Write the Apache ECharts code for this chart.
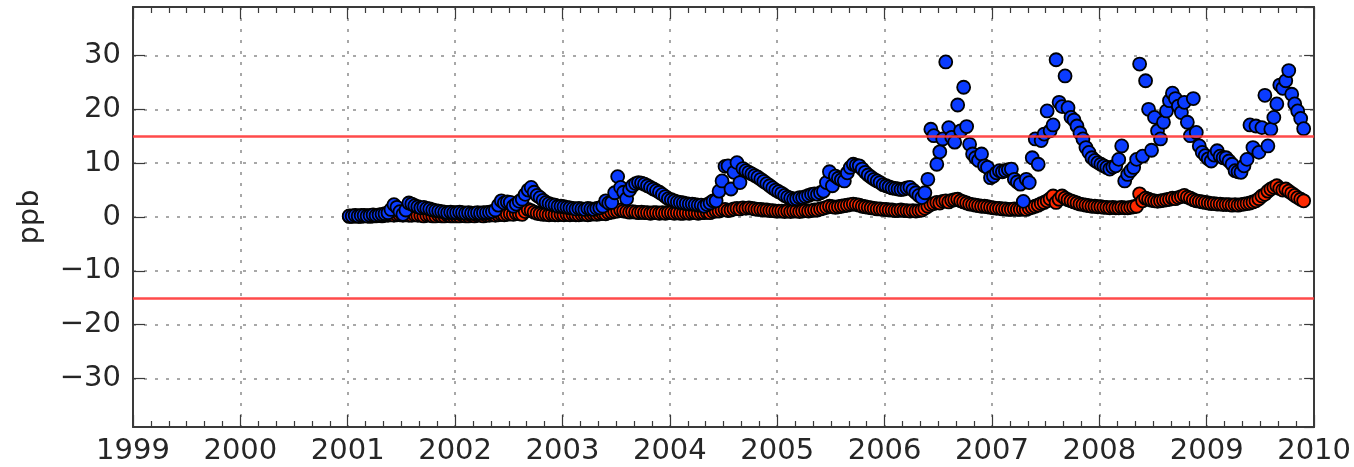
<!DOCTYPE html>
<html>
<head>
<meta charset="utf-8">
<script src="https://cdn.jsdelivr.net/npm/echarts@6/dist/echarts.min.js"></script>
<style>
  html, body { margin: 0; padding: 0; background: #ffffff; }
  #chart { width: 1354px; height: 467px; }
</style>
</head>
<body>
<div id="chart"></div>
<script>
// Ten-day (dekad) samples, 36 per year, starting January 2001.
const years = [2001, 2002, 2003, 2004, 2005, 2006, 2007, 2008, 2009];
const samplesPerYear = 36;

// Blue series (ppb)
const blue2001 = [0.2,0.2,0.3,0.2,0.3,0.3,0.2,0.3,0.4,0.3, 0.4,0.5,0.6,0.8,1.4,2.3,1.8,1.0,0.5,1.3, 2.6,2.4,2.1,1.9,1.7,1.8,1.6,1.5,1.3,1.2, 1.1,1.0,0.9,0.8,0.9,0.8];
const blue2002 = [0.8,0.9,0.8,0.7,0.8,0.7,0.7,0.8,0.7,0.8, 0.8,0.9,1.0,1.3,2.2,3.0,2.6,2.8,2.7,2.0, 2.4,2.9,3.3,4.2,5.0,5.5,4.6,4.0,3.6,3.1, 2.7,2.5,2.3,2.2,2.0,2.0];
const blue2003 = [1.9,1.8,1.7,1.6,1.5,1.6,1.5,1.4,1.6,1.5, 1.4,1.6,1.7,2.0,3.0,2.6,2.7,4.5,7.5,5.5, 4.6,3.4,5.0,5.8,6.2,6.4,6.3,6.1,5.8,5.5, 5.2,4.9,4.6,4.2,3.8,3.4];
const blue2004 = [3.2,3.0,2.8,2.7,2.6,2.5,2.4,2.4,2.3,2.2, 2.2,2.0,2.3,2.6,3.0,3.0,4.8,6.7,9.4,9.5, 5.2,8.3,10.1,6.4,9.0,8.6,8.3,8.0,7.7,7.4, 7.0,6.6,6.2,5.8,5.4,5.0];
const blue2005 = [4.7,4.4,4.0,3.7,3.5,3.3,3.4,3.6,3.6,3.8, 4.0,4.2,4.3,4.2,4.5,4.8,6.4,8.4,5.8,7.6, 7.2,6.9,6.7,8.2,9.2,9.8,9.6,9.5,8.9,8.3, 7.8,7.4,7.0,6.7,6.4,6.0];
const blue2006 = [5.8,5.6,5.4,5.3,5.2,5.1,5.2,5.4,5.5,5.0, 4.5,4.0,3.6,4.5,7.0,16.3,15.1,9.8,12.1,14.5, 28.8,16.6,14.8,13.9,20.8,16.0,24.1,16.8,13.5,11.7, 11.0,10.5,11.7,9.5,9.2,7.3];
const blue2007 = [7.6,8.2,8.6,8.4,8.6,8.8,8.9,7.0,6.5,6.1, 2.9,7.0,6.4,11.0,14.5,9.8,14.2,15.4,19.7,16.0, 17.1,29.2,21.3,20.5,26.2,20.3,18.5,18.0,16.9,15.6, 14.5,12.9,12.0,11.0,10.5,10.1];
const blue2008 = [9.8,9.5,9.2,8.9,9.3,9.5,10.7,13.2,6.7,7.9, 8.6,9.2,10.7,28.4,11.3,25.3,20.0,12.4,18.5,16.0, 14.5,17.6,19.7,21.6,23.0,22.0,20.6,19.4,21.3,17.6, 15.1,22.0,15.7,13.2,12.0,11.4];
const blue2009 = [10.8,10.4,11.5,12.3,11.3,11.0,11.0,10.4,9.8,8.6, 8.4,8.3,9.5,10.7,17.1,12.9,16.9,12.0,16.6,22.6, 13.2,16.3,18.5,21.0,24.5,23.9,25.3,27.2,22.8,21.0, 19.7,18.3,16.4];

// Red series (ppb)
const red2001 = [0.1,0.1,0.2,0.1,0.1,0.2,0.2,0.1,0.2,0.2, 0.3,0.2,0.3,0.3,0.4,0.3,0.4,0.4,0.3,0.4, 0.3,0.3,0.4,0.3,0.3,0.2,0.3,0.3,0.2,0.2, 0.3,0.2,0.2,0.3,0.2,0.2];
const red2002 = [0.2,0.2,0.3,0.2,0.2,0.3,0.2,0.3,0.3,0.2, 0.3,0.3,0.4,0.3,0.4,0.5,0.4,0.5,0.6,0.5, 0.7,0.6,0.5,1.0,1.4,1.2,0.9,0.7,0.6,0.5, 0.5,0.4,0.5,0.4,0.4,0.5];
const red2003 = [0.4,0.5,0.4,0.5,0.4,0.4,0.5,0.5,0.4,0.5, 0.6,0.5,0.6,0.7,0.6,0.8,0.9,1.0,1.1,1.3, 1.1,1.0,0.9,1.0,0.9,0.8,0.9,0.8,0.8,0.7, 0.8,0.8,0.7,0.8,0.7,0.8];
const red2004 = [0.8,0.7,0.8,0.7,0.7,0.8,0.7,0.8,0.8,0.7, 0.8,0.8,0.9,0.8,1.0,1.1,1.1,1.3,1.4,1.2, 1.3,1.5,1.6,1.5,1.7,1.6,1.7,1.6,1.5,1.4, 1.4,1.3,1.3,1.2,1.2,1.1];
const red2005 = [1.1,1.1,1.0,1.1,1.0,1.1,1.1,1.0,1.1,1.2, 1.1,1.2,1.3,1.3,1.5,1.6,1.8,2.0,1.9,1.8, 1.9,2.0,2.1,2.2,2.3,2.4,2.3,2.2,2.0,1.9, 1.8,1.7,1.6,1.5,1.5,1.4];
const red2006 = [1.4,1.3,1.3,1.2,1.2,1.3,1.2,1.2,1.1,1.2, 1.1,1.2,1.3,1.6,2.0,2.3,2.5,2.7,2.6,2.9, 3.0,2.8,3.1,3.2,3.3,3.0,2.8,2.6,2.4,2.3, 2.2,2.1,2.0,2.0,1.9,1.8];
const red2007 = [1.7,1.6,1.6,1.5,1.5,1.4,1.4,1.5,1.4,1.4, 1.5,1.4,1.6,1.8,2.0,2.2,2.5,2.7,3.0,3.4, 3.9,2.7,3.3,3.9,3.5,3.2,3.0,2.8,2.6,2.4, 2.3,2.2,2.1,2.0,2.0,1.9];
const red2008 = [1.9,1.8,1.8,1.7,1.8,1.7,1.7,1.8,1.7,1.7, 1.8,1.9,2.0,4.3,3.0,3.5,3.3,3.1,3.0,2.9, 3.0,3.1,3.2,3.3,3.5,3.4,3.6,3.8,4.0,3.7, 3.5,3.2,3.0,2.9,2.8,2.7];
const red2009 = [2.6,2.5,2.5,2.4,2.4,2.3,2.3,2.3,2.2,2.3, 2.2,2.3,2.4,2.5,2.6,2.8,3.0,3.4,3.9,4.2, 4.8,5.2,5.5,5.8,5.3,5.0,5.2,4.8,4.4,4.0, 3.6,3.3,3.0];

// Threshold lines (ppb)
const thresholds = [15, -15];

// Axis ranges
const xRange = [1999, 2010];
const yRange = [-39, 39];

const blueByYear = [blue2001, blue2002, blue2003, blue2004, blue2005, blue2006, blue2007, blue2008, blue2009];
const redByYear = [red2001, red2002, red2003, red2004, red2005, red2006, red2007, red2008, red2009];

// Pair each dekad value with its decimal-year timestamp
function toPoints(byYear) {
  const pts = [];
  byYear.forEach((vals, i) => {
    vals.forEach((v, k) => {
      pts.push([years[i] + (k + 0.5) / samplesPerYear, v]);
    });
  });
  return pts;
}

const ink = '#3a3a3a';
const textColor = '#262626';
const font = 'DejaVu Sans';
const gridDots = { color: '#8c8c8c', width: 1.5, type: [3, 8] };

const chart = echarts.init(document.getElementById('chart'), null, { renderer: 'canvas' });

chart.setOption({
  animation: false,
  backgroundColor: '#ffffff',
  grid: { left: 133, right: 39, top: 7, bottom: 40, containLabel: false },
  xAxis: [
    {
      type: 'value', position: 'bottom',
      min: xRange[0], max: xRange[1], interval: 1,
      axisLine: { show: true, onZero: false, lineStyle: { color: ink, width: 2 } },
      axisTick: { show: true, inside: true, length: 12, lineStyle: { color: ink, width: 1.2 } },
      minorTick: { show: true, splitNumber: 6, length: 6, lineStyle: { color: ink, width: 1.2 } },
      axisLabel: {
        formatter: v => String(v), fontSize: 29, fontFamily: font, color: textColor, margin: 10,
        showMinLabel: true, showMaxLabel: true
      },
      splitLine: { show: true, lineStyle: gridDots }
    },
    {
      type: 'value', position: 'top',
      min: xRange[0], max: xRange[1], interval: 1,
      axisLine: { show: true, onZero: false, lineStyle: { color: ink, width: 2 } },
      axisTick: { show: true, inside: true, length: 12, lineStyle: { color: ink, width: 1.2 } },
      minorTick: { show: true, splitNumber: 6, length: 6, lineStyle: { color: ink, width: 1.2 } },
      axisLabel: { show: false },
      splitLine: { show: false }
    }
  ],
  yAxis: [
    {
      type: 'value', position: 'left',
      min: yRange[0], max: yRange[1], splitNumber: 8,
      name: 'ppb', nameLocation: 'middle', nameGap: 88,
      nameTextStyle: { fontSize: 29, fontFamily: font, color: textColor },
      axisLine: { show: true, onZero: false, lineStyle: { color: ink, width: 2 } },
      axisTick: { show: true, inside: true, length: 12, lineStyle: { color: ink, width: 1.2 } },
      axisLabel: {
        fontSize: 29, fontFamily: font, color: textColor, margin: 12,
        showMinLabel: false, showMaxLabel: false,
        formatter: v => (v < 0 ? '\u2212' + Math.abs(v) : String(v))
      },
      splitLine: { show: true, lineStyle: gridDots }
    },
    {
      type: 'value', position: 'right',
      min: yRange[0], max: yRange[1], splitNumber: 8,
      axisLine: { show: true, onZero: false, lineStyle: { color: ink, width: 2 } },
      axisTick: { show: true, inside: true, length: 10, lineStyle: { color: ink, width: 1.2 } },
      axisLabel: { show: false },
      splitLine: { show: false }
    }
  ],
  series: [
    {
      name: 'red', type: 'scatter', xAxisIndex: 0, yAxisIndex: 0,
      data: toPoints(redByYear), symbol: 'circle', symbolSize: 13, z: 2,
      itemStyle: { color: '#ff2a00', borderColor: '#000000', borderWidth: 1.8, opacity: 1 }
    },
    {
      name: 'blue', type: 'scatter', xAxisIndex: 0, yAxisIndex: 0,
      data: toPoints(blueByYear), symbol: 'circle', symbolSize: 13, z: 3,
      itemStyle: { color: '#0b3cff', borderColor: '#000000', borderWidth: 1.8, opacity: 1 }
    },
    {
      name: 'limits', type: 'scatter', xAxisIndex: 0, yAxisIndex: 0, data: [], z: 10,
      markLine: {
        silent: true, symbol: ['none', 'none'], animation: false,
        label: { show: false },
        lineStyle: { color: '#ff3636', width: 2.5, type: 'solid', opacity: 0.9 },
        data: thresholds.map(t => ({ yAxis: t }))
      }
    }
  ]
});
</script>
</body>
</html>
